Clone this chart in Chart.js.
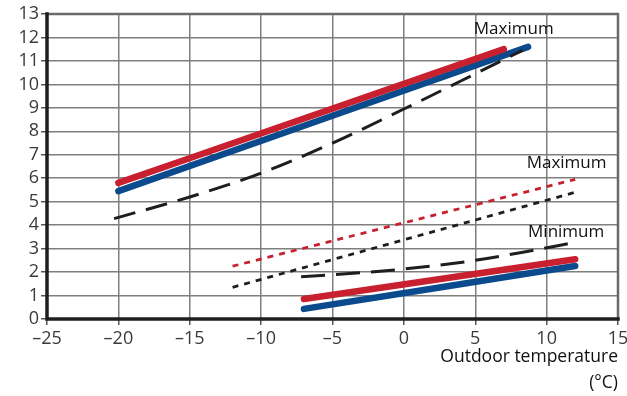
<!DOCTYPE html>
<html>
<head>
<meta charset="utf-8">
<script src="https://cdn.jsdelivr.net/npm/chart.js@4"></script>
<style>
  html, body { margin: 0; padding: 0; background: #fff; }
  #wrap { width: 627px; height: 396px; position: relative; }
</style>
</head>
<body>
<div id="wrap"><canvas id="c" width="627" height="396"></canvas></div>
<script>
// ---- data ----
const xTickValues = [-25, -20, -15, -10, -5, 0, 5, 10, 15];
const xTickLabels = ['–25', '–20', '–15', '–10', '–5', '0', '5', '10', '15'];
const yTickLabels = ['0','1','2','3','4','5','6','7','8','9','10','11','12','13'];

// upper group
const upperRedX  = [-20, 7];
const upperRedY  = [5.8, 11.5];
const upperBlueX = [-20, 8.7];
const upperBlueY = [5.45, 11.6];
const upperDashX = [-20.3, -15, -10, -5, 0, 5, 8.3];
const upperDashY = [4.28, 5.2, 6.22, 7.5, 8.95, 10.45, 11.45];

// middle dotted group
const dotRedX   = [-12, 12];
const dotRedY   = [2.25, 5.95];
const dotBlackX = [-12, 12];
const dotBlackY = [1.35, 5.4];

// lower group
const lowerDashX = [-7.2, -3, 0, 5, 9, 11.8];
const lowerDashY = [1.8, 1.97, 2.13, 2.5, 2.92, 3.24];
const lowerRedX  = [-7, 12];
const lowerRedY  = [0.85, 2.55];
const lowerBlueX = [-7, 12];
const lowerBlueY = [0.43, 2.26];

const labels = [
  { text: 'Maximum', x: 4.9, y: 12.35 },
  { text: 'Maximum', x: 8.6, y: 6.65 },
  { text: 'Minimum', x: 8.7, y: 3.72 }
];

const RED = '#c8202f';
const BLUE = '#0b4a8c';
const BLACK = '#1e1e1e';

function pts(xs, ys) { return xs.map((x, i) => ({ x: x, y: ys[i] })); }

function ds(xs, ys, color, width, dash, tension) {
  return {
    data: pts(xs, ys),
    borderColor: color,
    borderWidth: width,
    borderDash: dash || [],
    borderCapStyle: dash && dash.length ? 'butt' : 'round',
    pointRadius: 0,
    fill: false,
    tension: tension || 0,
    cubicInterpolationMode: 'monotone'
  };
}

const FONT = '"Open Sans", "DejaVu Sans", sans-serif';

const labelPlugin = {
  id: 'labelPlugin',
  afterDatasetsDraw(chart) {
    const { ctx, scales } = chart;
    ctx.save();
    ctx.font = '17px ' + FONT;
    ctx.fillStyle = '#111';
    ctx.textAlign = 'left';
    ctx.textBaseline = 'middle';
    labels.forEach(l => {
      ctx.fillText(l.text, scales.x.getPixelForValue(l.x), scales.y.getPixelForValue(l.y));
    });
    ctx.restore();
  }
};

const frame = {
  id: 'frame',
  afterDatasetsDraw(chart) {
    const { ctx, chartArea: a } = chart;
    ctx.save();
    ctx.lineCap = 'square';
    ctx.strokeStyle = '#6a6a6a';
    ctx.lineWidth = 2.5;
    ctx.beginPath();
    ctx.moveTo(a.left, a.top);
    ctx.lineTo(a.right, a.top);
    ctx.lineTo(a.right, a.bottom);
    ctx.stroke();
    ctx.strokeStyle = '#1e1e1e';
    ctx.lineWidth = 3.5;
    ctx.beginPath();
    ctx.moveTo(a.left, a.top);
    ctx.lineTo(a.left, a.bottom);
    ctx.lineTo(a.right, a.bottom);
    ctx.stroke();
    ctx.restore();
  }
};

new Chart(document.getElementById('c'), {
  type: 'line',
  data: {
    datasets: [
      ds(upperDashX, upperDashY, BLACK, 3, [22, 11], 0.4),
      ds(upperRedX, upperRedY, RED, 6.5),
      ds(upperBlueX, upperBlueY, BLUE, 6.5),
      ds(dotRedX, dotRedY, RED, 2.8, [6, 6]),
      ds(dotBlackX, dotBlackY, BLACK, 2.8, [6, 6]),
      ds(lowerDashX, lowerDashY, BLACK, 3, [24, 11], 0.4),
      ds(lowerRedX, lowerRedY, RED, 6.5),
      ds(lowerBlueX, lowerBlueY, BLUE, 6.5)
    ]
  },
  options: {
    responsive: false,
    animation: false,
    events: [],
    layout: { padding: { top: 14, right: 9, left: 0, bottom: 0 } },
    plugins: { legend: { display: false }, tooltip: { enabled: false } },
    scales: {
      x: {
        type: 'linear',
        min: -25, max: 15,
        afterBuildTicks(scale) { scale.ticks = xTickValues.map(v => ({ value: v })); },
        afterFit(scale) { scale.height = 77; scale.paddingRight = 0; },
        border: { display: false },
        grid: { color: '#7f7f7f', lineWidth: 1.5, tickLength: 6, tickColor: '#555' },
        ticks: {
          color: '#3a3a3a',
          font: { family: FONT, size: 18 },
          padding: 3,
          maxRotation: 0,
          autoSkip: false,
          callback(v) { const i = xTickValues.indexOf(v); return i >= 0 ? xTickLabels[i] : ''; }
        },
        title: {
          display: true,
          text: ['Outdoor temperature', '(°C)'],
          align: 'end',
          color: '#111',
          font: { family: FONT, size: 17.5, lineHeight: '26px' },
          padding: { top: 0, bottom: 0 }
        }
      },
      y: {
        type: 'linear',
        min: 0, max: 13,
        afterBuildTicks(scale) { scale.ticks = yTickLabels.map((t, i) => ({ value: i })); },
        afterFit(scale) { scale.width = 47; },
        border: { display: false },
        grid: { color: '#7f7f7f', lineWidth: 1.5, tickLength: 6, tickColor: '#555' },
        ticks: {
          color: '#3a3a3a',
          font: { family: FONT, size: 18 },
          padding: 2,
          autoSkip: false,
          callback(v) { return yTickLabels[v] !== undefined ? yTickLabels[v] : ''; }
        }
      }
    }
  },
  plugins: [frame, labelPlugin]
});
</script>
</body>
</html>
